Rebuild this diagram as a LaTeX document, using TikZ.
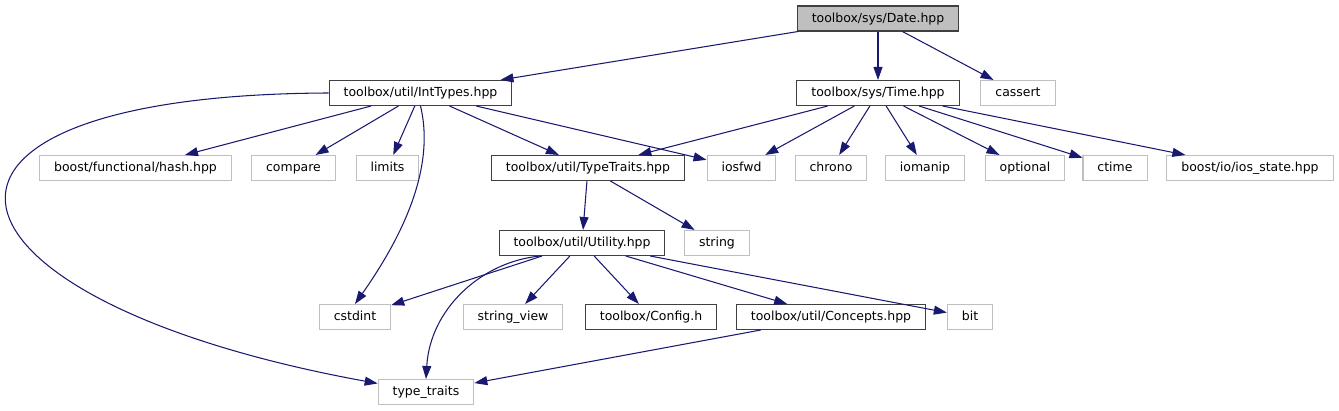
\documentclass[tikz,border=0pt]{standalone}
\usepackage{fontspec}
\setmainfont{DejaVu Sans}
\usepackage{tikz}
\usetikzlibrary{
    calc,
    arrows.meta
}
\definecolor{edgeblue}{HTML}{191970}
\definecolor{lightframe}{HTML}{BFBFBF}
\definecolor{darkframe}{HTML}{404040}

\begin{document}
\begin{tikzpicture}[x=0.02cm,y=-0.02cm,
    font=\fontsize{7.1}{8.5}\selectfont,
    file/.style={draw=darkframe,line width=0.6pt,minimum height=0.5cm,
        inner xsep=0.29cm,inner ysep=0pt,text height=5.6pt,text depth=1.6pt},
    sysfile/.style={file,draw=lightframe},
    dep/.style={draw=edgeblue,line width=0.6pt,
        -{Triangle[length=0.26cm,width=0.18cm]}}]
\useasboundingbox (0,0) rectangle (1339,411);
%\draw [help lines](0,0) grid (1339,411);
% project headers
\node [file,fill=lightframe] (date) at (878,18.5) {toolbox/sys/Date.hpp};
\node [file] (inttypes) at (420.5,93) {toolbox/util/IntTypes.hpp};
\node [file] (time) at (878,93) {toolbox/sys/Time.hpp};
\node [file] (typetraits) at (588,168) {toolbox/util/TypeTraits.hpp};
\node [file] (utility) at (582,243) {toolbox/util/Utility.hpp};
\node [file] (config) at (651,317) {toolbox/Config.h};
\node [file] (concepts) at (831,317) {toolbox/util/Concepts.hpp};
% system headers
\node [sysfile] (cassert) at (1018,93) {cassert};
\node [sysfile] (hash) at (135.5,168) {boost/functional/hash.hpp};
\node [sysfile] (compare) at (293.5,168) {compare};
\node [sysfile] (limits) at (387.5,168) {limits};
\node [sysfile] (iosfwd) at (741.5,168) {iosfwd};
\node [sysfile] (chrono) at (831,168) {chrono};
\node [sysfile] (iomanip) at (925,168) {iomanip};
\node [sysfile] (optional) at (1025,168) {optional};
\node [sysfile] (ctime) at (1115,168) {ctime};
\node [sysfile] (iosstate) at (1250,168) {boost/io/ios\_state.hpp};
\node [sysfile] (string) at (717,243) {string};
\node [sysfile] (cstdint) at (355,317) {cstdint};
\node [sysfile] (stringview) at (513,317) {string\_view};
\node [sysfile] (bit) at (970,317) {bit};
\node [sysfile] (stdtraits) at (426,392) {type\_traits};
% Date.hpp
\draw [dep] (date) -- (inttypes);
\draw [dep] (date) -- (time);
\draw [dep] (date) -- (cassert);
% IntTypes.hpp
\draw [dep] (inttypes.west) .. controls (-135,95) and (-80,300) .. (stdtraits.170);
\draw [dep] (inttypes) -- (hash);
\draw [dep] (inttypes) -- (compare);
\draw [dep] (inttypes) -- (limits);
\draw [dep] (inttypes.south) .. controls (436,170) and (400,240) .. (cstdint.north);
\draw [dep] (inttypes) -- (typetraits);
\draw [dep] (inttypes) -- (iosfwd);
% Time.hpp
\draw [dep] (time) -- (typetraits);
\draw [dep] (time) -- (iosfwd);
\draw [dep] (time) -- (chrono);
\draw [dep] (time) -- (iomanip);
\draw [dep] (time) -- (optional);
\draw [dep] (time) -- (ctime);
\draw [dep] (time) -- (iosstate);
% TypeTraits.hpp
\draw [dep] (typetraits) -- (utility);
\draw [dep] (typetraits) -- (string);
% Utility.hpp
\draw [dep] (utility) -- (cstdint);
\draw [dep] ($(utility.south)+(-42,0)$) .. controls (480,262) and (430,310) .. (stdtraits.north);
\draw [dep] (utility) -- (stringview);
\draw [dep] (utility) -- (config);
\draw [dep] (utility) -- (concepts);
\draw [dep] (utility) -- (bit);
% Concepts.hpp
\draw [dep] (concepts) -- (stdtraits);
\end{tikzpicture}
\end{document}
